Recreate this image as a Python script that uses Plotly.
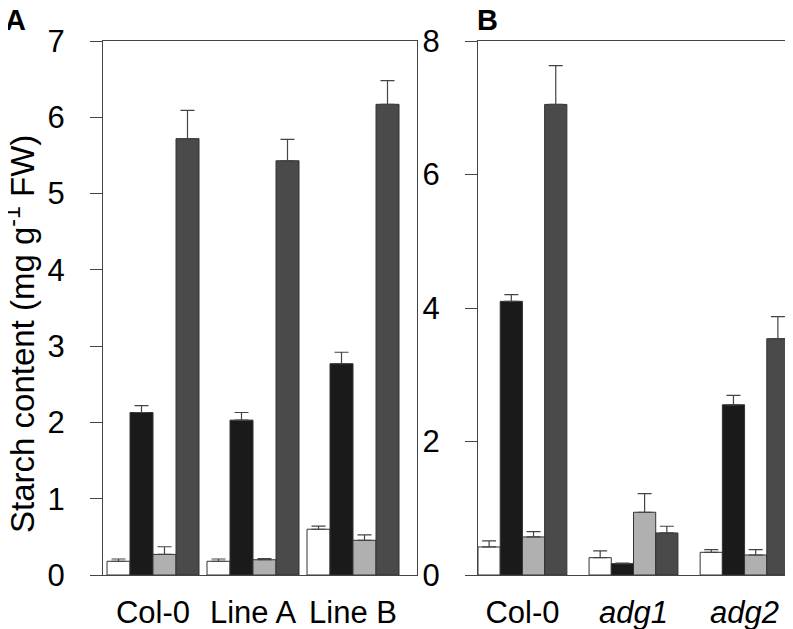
import plotly.graph_objects as go

# Panel A data
cats_a = ["Col-0", "Line A", "Line B"]
a_white = [0.18, 0.18, 0.60]
a_white_err = [0.03, 0.03, 0.04]
a_black = [2.13, 2.03, 2.77]
a_black_err = [0.09, 0.10, 0.15]
a_gray = [0.27, 0.20, 0.455]
a_gray_err = [0.10, 0.015, 0.07]
a_dark = [5.72, 5.43, 6.17]
a_dark_err = [0.37, 0.28, 0.31]

# Panel B data
cats_b = ["Col-0", "<i>adg1</i>", "<i>adg2</i>"]
b_white = [0.42, 0.26, 0.34]
b_white_err = [0.09, 0.10, 0.04]
b_black = [4.10, 0.17, 2.55]
b_black_err = [0.10, 0.01, 0.14]
b_gray = [0.57, 0.94, 0.30]
b_gray_err = [0.08, 0.28, 0.08]
b_dark = [7.05, 0.63, 3.54]
b_dark_err = [0.58, 0.10, 0.33]

ticks_a = [0, 1, 2, 3, 4, 5, 6, 7]
ticks_b = [0, 2, 4, 6, 8]

colors = ["#ffffff", "#1a1a1a", "#b0b0b0", "#4a4a4a"]
FONT = "Liberation Sans, Arial, sans-serif"

# page body has an 8px margin; figure fills the rest of the window
OFF = 8
W, H = 793 - OFF, 629 - OFF


def px(sx):
    return (sx - OFF) / W


def py(sy):
    return (H - (sy - OFF)) / H


fig = go.Figure()


def add_panel(series, errs, xaxis, yaxis, w):
    for i, (vals, err) in enumerate(zip(series, errs)):
        fig.add_trace(go.Bar(
            x=list(range(len(vals))), y=vals,
            width=w, offset=-2 * w + i * w,
            marker=dict(color=colors[i], line=dict(color="#333333", width=1)),
            error_y=dict(type="data", symmetric=False, array=err,
                         arrayminus=[0] * len(err), color="#444444",
                         thickness=1.2, width=7),
            xaxis=xaxis, yaxis=yaxis, showlegend=False, cliponaxis=False,
        ))


add_panel([a_white, a_black, a_gray, a_dark],
          [a_white_err, a_black_err, a_gray_err, a_dark_err], "x", "y", 0.23)
add_panel([b_white, b_black, b_gray, b_dark],
          [b_white_err, b_black_err, b_gray_err, b_dark_err], "x2", "y2", 0.2)

ydom = [py(575), py(41)]
axcol = "#444444"

common_x = dict(showgrid=False, zeroline=False, showline=True, linecolor=axcol,
                linewidth=1.2, mirror=True, ticks="", automargin=False,
                tickfont=dict(size=31, color="black", family=FONT),
                ticklabelstandoff=10)
common_y = dict(showgrid=False, zeroline=False, showline=True, linecolor=axcol,
                linewidth=1.2, mirror=True, ticks="outside", ticklen=12, tickcolor=axcol,
                tickwidth=1.2, automargin=False,
                tickfont=dict(size=31, color="black", family=FONT),
                ticklabelstandoff=19)

fig.update_layout(
    template="none",
    width=W, height=H, barmode="overlay",
    margin=dict(l=0, r=0, t=0, b=0, pad=0),
    plot_bgcolor="white", paper_bgcolor="white",
    xaxis=dict(domain=[px(103), px(417)], range=[-0.5, 2.64],
               tickvals=[0, 1, 2], ticktext=cats_a, **common_x),
    yaxis=dict(domain=ydom, range=[0, 7], tickvals=ticks_a, **common_y),
    xaxis2=dict(domain=[px(478), px(789)], range=[-0.4, 2.4],
                tickvals=[0, 1, 2], ticktext=cats_b, anchor="y2", **common_x),
    yaxis2=dict(domain=ydom, range=[0, 8], tickvals=ticks_b, anchor="x2", **common_y),
    annotations=[
        dict(text="Starch content (mg g<sup>-1</sup> FW)", textangle=-90,
             x=px(20), y=py(334), xref="paper", yref="paper",
             xanchor="center", yanchor="middle",
             showarrow=False, font=dict(size=33, color="black", family=FONT)),
        dict(text="<b>A</b>", x=px(3), y=py(2), xref="paper", yref="paper",
             xanchor="left", yanchor="top", showarrow=False,
             font=dict(size=29, color="black", family=FONT)),
        dict(text="<b>B</b>", x=px(475), y=py(2), xref="paper", yref="paper",
             xanchor="left", yanchor="top", showarrow=False,
             font=dict(size=29, color="black", family=FONT)),
    ],
)

fig.write_html("out.html")
